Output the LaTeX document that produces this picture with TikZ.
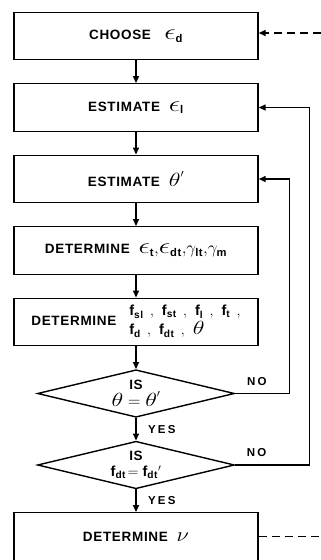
\documentclass[tikz,border=0pt]{standalone}
\usepackage{amsmath, amssymb}
\usepackage{graphicx}
\usepackage{fontspec}
\setsansfont{Liberation Sans}[LetterSpace=5]
\newfontfamily\lblfamily{Liberation Sans}[LetterSpace=20]
\usepackage{tikz}
\usetikzlibrary{shapes.geometric, arrows.meta, positioning}
\newcommand{\flowfont}{\sffamily\bfseries\fontsize{13.5}{15}\selectfont}
\newcommand{\symsize}{\fontsize{16}{16}\selectfont}
\newcommand{\listsize}{\fontsize{14.5}{16}\selectfont}
\newcommand{\Eps}{\scalebox{1.65}[1.3]{$\epsilon$}}
\newcommand{\Th}{\scalebox{1.4}[1.1]{$\theta$}}
\newcommand{\sep}{\;\,{,}\;\;}

\begin{document}
\begin{tikzpicture}[x=1pt, y=-1pt, node distance=22.6pt,
    stepbox/.style={draw, line width=1.4pt, minimum width=244pt, minimum height=47.5pt, inner sep=0pt, font=\flowfont},
    decide/.style={diamond, draw, line width=1.4pt, aspect=4.2, minimum width=197pt, minimum height=47.5pt, inner sep=0pt, align=center, font=\flowfont},
    flow/.style={line width=1.4pt, -{Triangle[length=7pt, width=6pt]}},
    dashline/.style={line width=1.4pt, dash pattern=on 8pt off 5pt},
    lbl/.style={font=\lblfamily\bfseries\fontsize{11.5}{12}\selectfont}]
  \useasboundingbox (0,0) rectangle (321,560);

  % Main column
  \node[stepbox] (choose) at (136,36) {CHOOSE~~~{\symsize$\Eps_{\text{d}}$}};
  \node[stepbox, below=of choose] (esteps) {ESTIMATE~~{\symsize$\Eps_{\text{l}}$}};
  \node[stepbox, below=of esteps] (esttheta) {ESTIMATE~~{\symsize$\Th'$}};
  \node[stepbox, below=of esttheta] (deteps)
    {DETERMINE~~{\symsize$\Eps_{\text{t}}{,}\Eps_{\text{dt}}{,}\gamma_{\text{lt}}{,}\gamma_{\text{m}}$}};
  \node[stepbox, below=of deteps] (detf)
    {DETERMINE\hspace{13pt}{\listsize\begin{tabular}{@{}l@{}}
      $\text{f}_{\text{sl}}\sep\text{f}_{\text{st}}\sep\text{f}_{\text{l}}\sep\text{f}_{\text{t}}\;\,{,}$\\[1pt]
      $\text{f}_{\text{d}}\sep\text{f}_{\text{dt}}\sep$\mbox{\symsize$\Th$}
    \end{tabular}}};
  \node[decide, below=of detf] (isth) {IS\\[1pt]{\symsize$\Th=\Th'$}};
  \node[decide, below=of isth] (isfdt) {IS\\[1pt]{\listsize$\text{f}_{\text{dt}}\!=\text{f}_{\text{dt}}{}'$}};
  \node[stepbox, below=of isfdt] (detnu) {DETERMINE~~{\symsize\scalebox{1.3}[1.15]{$\nu$}}};

  % Straight flow
  \draw[flow] (choose) -- (esteps);
  \draw[flow] (esteps) -- (esttheta);
  \draw[flow] (esttheta) -- (deteps);
  \draw[flow] (deteps) -- (detf);
  \draw[flow] (detf) -- (isth);
  \draw[flow] (isth) -- node[lbl, right=8pt] {YES} (isfdt);
  \draw[flow] (isfdt) -- node[lbl, right=8pt] {YES} (detnu);

  % Loops back
  \draw[flow] (isth.east) -- node[lbl, above=4pt, pos=0.4] {NO} ++(54,0) |- (esttheta.east);
  \draw[flow] (isfdt.east) -- node[lbl, above=4pt, pos=0.29] {NO} ++(74,0) |- (esteps.east);

  % Dashed in and out
  \coordinate (fromright) at (321,33);
  \draw[flow, dashline] (fromright) -- (fromright -| choose.east);
  \draw[dashline] (detnu.east) -- (detnu.east -| fromright);
\end{tikzpicture}
\end{document}
